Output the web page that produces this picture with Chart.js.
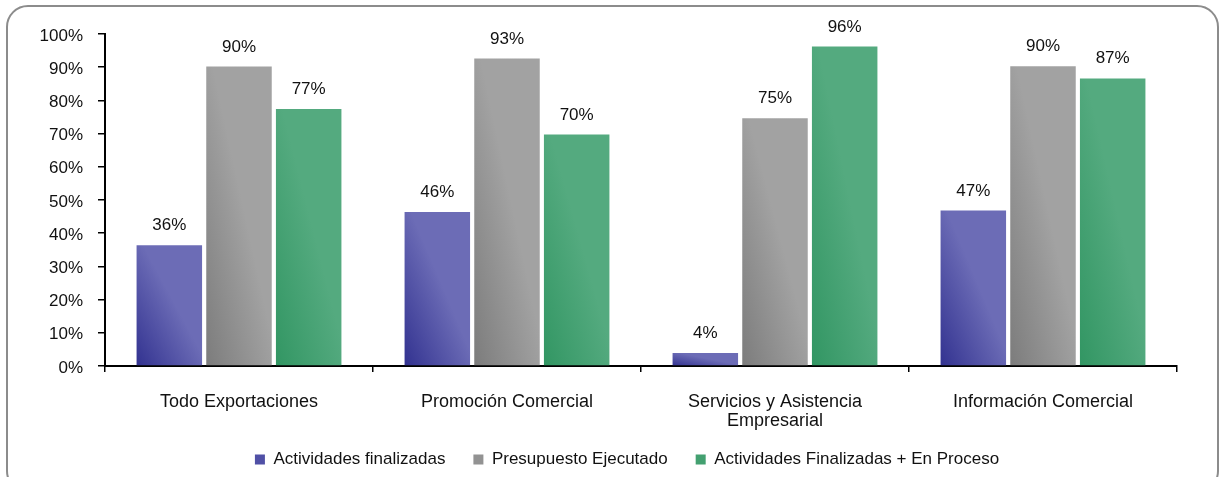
<!DOCTYPE html>
<html>
<head>
<meta charset="utf-8">
<script src="https://cdn.jsdelivr.net/npm/chart.js@4/dist/chart.umd.min.js"></script>
<style>
  html, body { margin: 0; padding: 0; background: #ffffff; }
  #wrap { width: 1220px; height: 477px; position: relative; }
</style>
</head>
<body>
<div id="wrap"><canvas id="c" width="1220" height="477"></canvas></div>
<script>
const categories = ['Todo Exportaciones', 'Promoción Comercial', ['Servicios y Asistencia', 'Empresarial'], 'Información Comercial'];
const seriesNames = ['Actividades finalizadas', 'Presupuesto Ejecutado', 'Actividades Finalizadas + En Proceso'];
const actividadesFinalizadas = [36.4, 46.4, 3.9, 46.8];
const presupuestoEjecutado = [90.2, 92.6, 74.6, 90.3];
const finalizadasEnProceso = [77.4, 69.7, 96.2, 86.6];
const yTicks = [0, 10, 20, 30, 40, 50, 60, 70, 80, 90, 100];

const FONT = '"Liberation Sans", Arial, sans-serif';
const CAT_PCT = 0.78, BAR_PCT = 0.94;
const darkColors = ['#323290', '#7c7c7c', '#329663'];
const lightColors = ['#6c6cb6', '#a2a2a2', '#54aa7f'];
const legendColors = ['#5050a6', '#929292', '#43a070'];

function barFill(dark, light) {
  return (ctx) => {
    const chart = ctx.chart;
    const ca = chart.chartArea;
    if (!ca || ctx.type !== 'data') return light;
    const xs = chart.scales.x, ys = chart.scales.y;
    const n = chart.data.datasets.length;
    const catW = (ca.right - ca.left) / chart.data.labels.length;
    const slot = catW * CAT_PCT / n;
    const w = slot * BAR_PCT;
    const cx = xs.getPixelForValue(ctx.dataIndex) + (ctx.datasetIndex - (n - 1) / 2) * slot;
    const left = cx - w / 2, bottom = ys.getPixelForValue(0);
    const h = Math.max(1, bottom - ys.getPixelForValue(ctx.raw));
    const k = 2 / (1 / (w * w) + 1 / (h * h));
    const g = chart.ctx.createLinearGradient(left, bottom, left + k / w, bottom - k / h);
    g.addColorStop(0, dark);
    g.addColorStop(0.55, light);
    g.addColorStop(1, light);
    return g;
  };
}

const frame = {
  id: 'frame',
  beforeDraw(chart) {
    const c = chart.ctx;
    c.save();
    c.fillStyle = '#ffffff';
    c.fillRect(0, 0, chart.width, chart.height);
    c.strokeStyle = '#8c8c8c';
    c.lineWidth = 2;
    c.beginPath();
    c.roundRect(7, 6, 1211, 486, 21);
    c.stroke();
    c.restore();
  }
};

const legendPlacer = {
  id: 'legendPlacer',
  afterLayout(chart) {
    const lg = chart.legend;
    if (!lg) return;
    const dx = 28.5, dy = -9;
    lg.left += dx; lg.right += dx;
    lg.top += dy; lg.bottom += dy;
  }
};

const valueLabels = {
  id: 'valueLabels',
  afterDatasetsDraw(chart) {
    const c = chart.ctx;
    c.save();
    c.font = '17px ' + FONT;
    c.fillStyle = '#111111';
    c.textAlign = 'center';
    c.textBaseline = 'alphabetic';
    chart.data.datasets.forEach((ds, di) => {
      const meta = chart.getDatasetMeta(di);
      meta.data.forEach((el, i) => {
        c.fillText(Math.round(ds.data[i]) + '%', el.x, el.y - 15);
      });
    });
    c.restore();
  }
};

new Chart(document.getElementById('c'), {
  type: 'bar',
  data: {
    labels: categories,
    datasets: [
      { label: seriesNames[0], data: actividadesFinalizadas, backgroundColor: barFill(darkColors[0], lightColors[0]) },
      { label: seriesNames[1], data: presupuestoEjecutado, backgroundColor: barFill(darkColors[1], lightColors[1]) },
      { label: seriesNames[2], data: finalizadasEnProceso, backgroundColor: barFill(darkColors[2], lightColors[2]) }
    ]
  },
  options: {
    responsive: false,
    animation: false,
    events: [],
    devicePixelRatio: 1,
    datasets: { bar: { categoryPercentage: CAT_PCT, barPercentage: BAR_PCT, borderWidth: 0 } },
    layout: { padding: { left: 20, right: 43, top: 34, bottom: -10 } },
    plugins: {
      tooltip: { enabled: false },
      legend: {
        position: 'bottom',
        labels: {
          font: { family: FONT, size: 17 },
          color: '#111111',
          boxWidth: 10,
          boxHeight: 10,
          padding: 28,
          generateLabels: (chart) => chart.data.datasets.map((ds, i) => ({
            text: ds.label,
            fillStyle: legendColors[i],
            strokeStyle: legendColors[i],
            lineWidth: 0,
            hidden: false,
            datasetIndex: i,
            fontColor: '#111111'
          }))
        }
      }
    },
    scales: {
      x: {
        grid: { display: true, drawOnChartArea: false, drawTicks: true, tickLength: 6, color: '#000000', lineWidth: 1.5, offset: true },
        border: { display: true, color: '#000000', width: 2 },
        ticks: { font: { family: FONT, size: 18, lineHeight: 1.05 }, color: '#111111', padding: 21, maxRotation: 0, autoSkip: false },
        afterFit: (s) => { s.height = 66; }
      },
      y: {
        min: 0,
        max: 100,
        afterBuildTicks: (s) => { s.ticks = yTicks.map(v => ({ value: v })); },
        grid: { display: true, drawOnChartArea: false, drawTicks: true, tickLength: 7, color: '#000000', lineWidth: 1.5 },
        border: { display: true, color: '#000000', width: 2 },
        ticks: { font: { family: FONT, size: 17 }, color: '#111111', padding: 15, labelOffset: 2, callback: (v) => v + '%' },
        afterFit: (s) => { s.width = 85; }
      }
    }
  },
  plugins: [frame, legendPlacer, valueLabels]
});
</script>
</body>
</html>
